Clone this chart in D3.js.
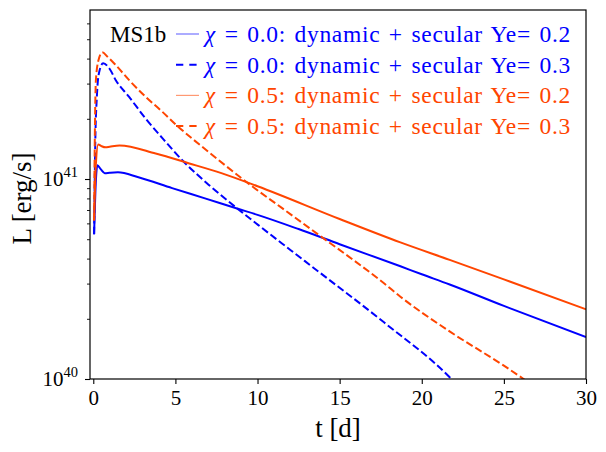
<!DOCTYPE html>
<html>
<head>
<meta charset="utf-8">
<script src="https://cdn.jsdelivr.net/npm/d3@7"></script>
<style>
    body { margin: 0; background: #fff; }
    svg text { font-family: "Liberation Serif", serif; }
</style>
</head>
<body>
<svg id="chart" width="606" height="452"></svg>
<script>
// chi = 0.0, Ye = 0.2 (solid blue), L in units of 1e40 erg/s
var tBlue02 = [0.05, 0.15, 0.25, 0.45, 0.7, 1.0, 1.5, 2.75, 4.8, 6.8, 8.8, 10, 12.5, 15, 18.7, 20, 21.7, 25, 30];
var lBlue02 = [5.3, 9.5, 11.7, 11.2, 10.7, 10.75, 10.8, 10.2, 9.0, 8.0, 7.1, 6.62, 5.62, 4.72, 3.66, 3.34, 2.97, 2.32, 1.62];

// chi = 0.0, Ye = 0.3 (dashed blue)
var tBlue03 = [0.05, 0.12, 0.22, 0.35, 0.6, 1.0, 1.36, 2.17, 3.18, 4.3, 5.51, 7.0, 8.76, 10.05, 12, 13.6, 17.7, 21.7, 22.5];
var lBlue03 = [5.3, 15, 26, 34, 37.9, 35.5, 31.3, 25.8, 20.1, 15.7, 12.2, 9.4, 7.13, 5.88, 4.42, 3.5, 1.92, 1.02, 0.87];

// chi = 0.5, Ye = 0.2 (solid orange)
var tOrange02 = [0.05, 0.15, 0.3, 0.5, 0.75, 1.0, 1.6, 3.8, 5.8, 7.8, 10, 15, 18.7, 21.7, 25, 30];
var lOrange02 = [6.2, 11.5, 14.9, 14.6, 14.4, 14.5, 14.7, 13.4, 12.0, 10.7, 9.2, 6.31, 4.82, 3.94, 3.15, 2.23];

// chi = 0.5, Ye = 0.3 (dashed orange)
var tOrange03 = [0.05, 0.1, 0.16, 0.32, 0.55, 0.85, 1.36, 2.17, 3.18, 4.2, 5.0, 7.0, 9.57, 11.5, 13.6, 17.7, 18.7, 21.74, 25, 26.2, 27];
var lOrange03 = [6.2, 18, 31.3, 39.4, 43.0, 41.0, 37.2, 31.3, 25.8, 21.7, 18.8, 13.7, 9.33, 7.15, 5.35, 3.01, 2.58, 1.72, 1.166, 1.0, 0.9];

var xTicks = [0, 5, 10, 15, 20, 25, 30];
var yMajor = [40, 41];
var legendChi = ["0.0", "0.0", "0.5", "0.5"];
var legendYe = ["0.2", "0.3", "0.2", "0.3"];

var blue = "#0000ff";
var orange = "#ff4500";
var serif = "Liberation Serif";

var svg = d3.select("#chart");
var plotL = 90, plotR = 586, plotT = 10, plotB = 379;

var x = d3.scaleLinear().domain([-0.2, 30]).range([plotL, plotR]);
var y = d3.scaleLog().domain([1e40, 7e41]).range([plotB, plotT]);

svg.append("clipPath")
    .attr("id", "plot-clip")
    .append("rect")
    .attr("x", plotL)
    .attr("y", plotT)
    .attr("width", plotR - plotL)
    .attr("height", plotB - plotT);

var series = [
    { t: tBlue02, l: lBlue02, color: blue, dash: null },
    { t: tBlue03, l: lBlue03, color: blue, dash: "7.4,3.2" },
    { t: tOrange02, l: lOrange02, color: orange, dash: null },
    { t: tOrange03, l: lOrange03, color: orange, dash: "7.4,3.2" }
];

var line = d3.line()
    .x(d => x(d[0]))
    .y(d => y(d[1] * 1e40))
    .curve(d3.curveMonotoneX);

var lines = svg.append("g").attr("clip-path", "url(#plot-clip)");
series.forEach(s => {
    lines.append("path")
        .datum(s.t.map((t, i) => [t, s.l[i]]))
        .attr("d", line)
        .attr("fill", "none")
        .attr("stroke", s.color)
        .attr("stroke-width", 2)
        .attr("stroke-dasharray", s.dash);
});

// axes
var xAxis = svg.append("g")
    .attr("transform", "translate(0," + plotB + ")")
    .call(d3.axisBottom(x).tickValues(xTicks).tickSize(5).tickFormat(d3.format("d")));
xAxis.select(".domain").remove();
xAxis.selectAll("text")
    .attr("dy", null)
    .attr("y", 26)
    .attr("font-family", serif)
    .attr("font-size", 21)
    .attr("fill", "#000");
xAxis.selectAll("line").attr("stroke", "#000").attr("stroke-width", 1.1);

var minorVals = [];
[1e40, 1e41].forEach(b => {
    for (var k = 2; k <= 9; k++) {
        if (b * k < 7e41) minorVals.push(b * k);
    }
});
var yMinor = svg.append("g")
    .attr("transform", "translate(" + plotL + ",0)")
    .call(d3.axisLeft(y).tickValues(minorVals).tickSize(3).tickFormat(""));
yMinor.select(".domain").remove();
yMinor.selectAll("line").attr("stroke", "#000").attr("stroke-width", 0.9);

var yAxis = svg.append("g")
    .attr("transform", "translate(" + plotL + ",0)")
    .call(d3.axisLeft(y).tickValues(yMajor.map(e => Math.pow(10, e))).tickSize(5).tickFormat(""));
yAxis.select(".domain").remove();
yAxis.selectAll("line").attr("stroke", "#000").attr("stroke-width", 1.1);

yMajor.forEach(e => {
    var lab = svg.append("text")
        .attr("x", 78)
        .attr("y", y(Math.pow(10, e)) + 7)
        .attr("text-anchor", "end")
        .attr("font-family", serif)
        .attr("font-size", 21);
    lab.append("tspan").text("10");
    lab.append("tspan")
        .attr("dy", -9)
        .attr("font-size", 14.5)
        .text(e);
});

// frame
svg.append("rect")
    .attr("x", plotL)
    .attr("y", plotT)
    .attr("width", plotR - plotL)
    .attr("height", plotB - plotT)
    .attr("fill", "none")
    .attr("stroke", "#000")
    .attr("stroke-width", 1.2);

// axis labels
svg.append("text")
    .attr("x", (plotL + plotR) / 2)
    .attr("y", 437)
    .attr("text-anchor", "middle")
    .attr("font-family", serif)
    .attr("font-size", 27)
    .text("t [d]");

svg.append("text")
    .attr("transform", "translate(31," + ((plotT + plotB) / 2 + 4) + ") rotate(-90)")
    .attr("text-anchor", "middle")
    .attr("font-family", serif)
    .attr("font-size", 27)
    .text("L [erg/s]");

// legend
svg.append("text")
    .attr("x", 110)
    .attr("y", 42)
    .attr("font-family", serif)
    .attr("font-size", 23)
    .text("MS1b");

series.forEach((s, i) => {
    var rowY = 34 + i * 30.7;
    svg.append("line")
        .attr("x1", 176)
        .attr("x2", 199)
        .attr("y1", rowY)
        .attr("y2", rowY)
        .attr("stroke", s.color)
        .attr("stroke-width", s.dash ? 2 : 1.2)
        .attr("stroke-opacity", s.dash ? 1 : 0.55)
        .attr("stroke-dasharray", s.dash ? "7.3,6" : null);
    svg.append("text")
        .attr("x", 205)
        .attr("y", rowY + 8)
        .attr("fill", s.color)
        .attr("font-family", serif)
        .attr("font-style", "italic")
        .attr("font-size", 23)
        .text("\u03c7");
    svg.append("text")
        .attr("x", 571)
        .attr("y", rowY + 8)
        .attr("text-anchor", "end")
        .attr("fill", s.color)
        .attr("font-family", serif)
        .attr("font-size", 23.5)
        .style("letter-spacing", "0.7px")
        .style("word-spacing", "2px")
        .text("= " + legendChi[i] + ":  dynamic + secular Ye= " + legendYe[i]);
});
</script>
</body>
</html>
